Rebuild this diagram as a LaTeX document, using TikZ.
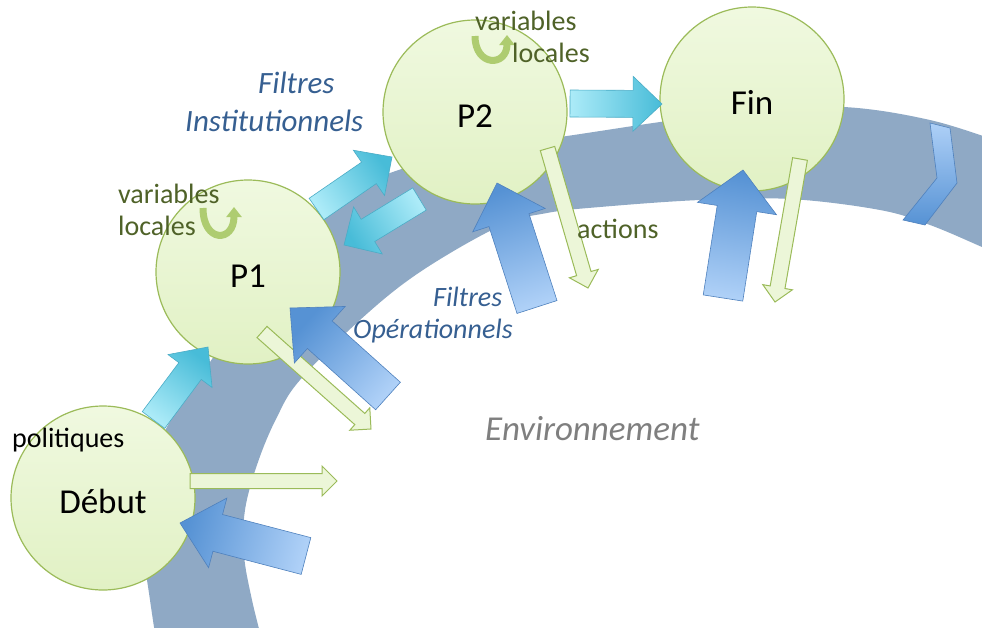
\documentclass[tikz,border=0pt]{standalone}
\usepackage{fontspec}
\setmainfont{Carlito}
\usetikzlibrary{calc}
\usetikzlibrary{arrows.meta}

\definecolor{bandcol}{RGB}{143,169,197}
\definecolor{disclight}{RGB}{240,249,224}
\definecolor{discdark}{RGB}{225,241,196}
\definecolor{discline}{RGB}{155,187,89}
\definecolor{cyanlight}{RGB}{172,235,248}
\definecolor{cyandark}{RGB}{72,188,216}
\definecolor{cyanline}{RGB}{75,172,198}
\definecolor{bluelight}{RGB}{174,208,247}
\definecolor{bluedark}{RGB}{86,146,212}
\definecolor{blueline}{RGB}{79,129,189}
\definecolor{paleg}{RGB}{236,246,216}
\definecolor{olive}{RGB}{79,98,40}
\definecolor{filtreblue}{RGB}{54,95,145}
\definecolor{envgray}{RGB}{127,127,127}
\definecolor{uturncol}{RGB}{174,204,112}

\newcommand{\blockarrow}[6]{%
  \pgfmathanglebetweenpoints{\pgfpointanchor{#2}{center}}{\pgfpointanchor{#3}{center}}%
  \pgfmathsetmacro{\shadeang}{\pgfmathresult-90}%
  \coordinate (hb) at ($(#3)!#6!(#2)$);
  \path[#1, shading angle=\shadeang]
    ($(#2)!#4!90:(#3)$) -- ($(hb)!#4!90:(#3)$) -- ($(hb)!#5!90:(#3)$) -- (#3)
    -- ($(hb)!#5!-90:(#3)$) -- ($(hb)!#4!-90:(#3)$) -- ($(#2)!#4!-90:(#3)$) -- cycle;
}

\begin{document}
\begin{tikzpicture}[%
  x=1pt, y=-1pt,
  disc/.style={circle, minimum size=184pt, inner sep=0pt, draw=discline,
    line width=1.2pt, bottom color=discdark, top color=disclight,
    text height=30pt, text depth=0pt, font=\fontsize{35}{40}\selectfont},
  cyanarr/.style={bottom color=cyanlight, top color=cyandark, draw=cyanline, line width=0.6pt},
  bluearr/.style={bottom color=bluelight, top color=bluedark, draw=blueline, line width=0.6pt},
  palearr/.style={bottom color=paleg, top color=paleg, draw=discline, line width=1pt},
  uturn/.style={draw=uturncol, line width=7pt, -{Triangle[width=15pt,length=10pt]}},
  smalltxt/.style={anchor=base west, inner sep=0pt, font=\fontsize{28}{32}\selectfont},
  filtre/.style={anchor=base west, inner sep=0pt, text=filtreblue, font=\itshape},
]

  \useasboundingbox (0,0) rectangle (982,627);
  \clip (0,0) rectangle (982,627);

  \fill[bandcol] plot[smooth, tension=0.6] coordinates {(156,640) (150,600) (145,560)
    (146,515) (153,470) (168,425) (210,362) (260,290) (305,225) (345,195) (390,173)
    (470,150) (567,136) (660,122) (750,110) (844,107) (930,120) (1000,142)}
    -- plot[smooth, tension=0.6] coordinates {(1000,255) (982,247) (930,225) (880,210)
    (790,199) (700,200) (600,207) (547,213) (500,226) (420,272) (360,320) (300,380)
    (277,417) (258,462) (245,510) (244,555) (252,600) (262,640)} -- cycle;

  \draw[top color=bluelight, bottom color=bluedark, draw=blueline, line width=0.6pt]
    (930,123) -- (950,128) -- (957,183) -- (925,225) -- (903,220) -- (937,178) -- cycle;

  \node[disc] (debut) at (103,498) {Début};
  \node[disc] (p1) at (248,272) {P1};
  \node[disc] (p2) at (475,112) {P2};
  \node[disc] (fin) at (752,99) {Fin};

  \coordinate (g0) at (190,481);
  \coordinate (g0t) at (337,481);
  \coordinate (g1) at (262,332);
  \coordinate (g1t) at (371,429);
  \coordinate (g2) at (547.5,148.5);
  \coordinate (g2t) at (588,288);
  \coordinate (g3) at (800,159);
  \coordinate (g3t) at (775,302);

  \coordinate (c0) at (153.5,420);
  \coordinate (c0t) at (208,347);
  \coordinate (c1) at (316.5,209);
  \coordinate (c1t) at (392,157);
  \coordinate (c2) at (419.5,199);
  \coordinate (c2t) at (344,245);
  \coordinate (c3) at (570,103.5);
  \coordinate (c3t) at (662,104);

  \coordinate (b0) at (306,556);
  \coordinate (b0t) at (180,523);
  \coordinate (b1) at (388,396);
  \coordinate (b1t) at (290,308);
  \coordinate (b2) at (537,307);
  \coordinate (b2t) at (497,183);
  \coordinate (b3) at (723,298);
  \coordinate (b3t) at (743,170);

  \blockarrow{palearr}{g0}{g0t}{7.5pt}{15pt}{15pt}
  \blockarrow{palearr}{g1}{g1t}{7.5pt}{15pt}{15pt}
  \blockarrow{palearr}{g2}{g2t}{7.5pt}{15pt}{15pt}
  \blockarrow{palearr}{g3}{g3t}{7.5pt}{15pt}{15pt}

  \blockarrow{cyanarr}{c0}{c0t}{14pt}{27.5pt}{30pt}
  \blockarrow{cyanarr}{c1}{c1t}{13pt}{27.5pt}{28pt}
  \blockarrow{cyanarr}{c2}{c2t}{13pt}{27.5pt}{28pt}
  \blockarrow{cyanarr}{c3}{c3t}{13.5pt}{27.5pt}{29pt}

  \blockarrow{bluearr}{b0}{b0t}{19pt}{36pt}{39pt}
  \blockarrow{bluearr}{b1}{b1t}{18.5pt}{38pt}{40pt}
  \blockarrow{bluearr}{b2}{b2t}{21pt}{38pt}{39pt}
  \blockarrow{bluearr}{b3}{b3t}{20pt}{40pt}{39pt}

  \coordinate (u1) at (203,208);
  \coordinate (u1t) at (234,207);
  \coordinate (u2) at (475,36);
  \coordinate (u2t) at (507,35);
  \draw[uturn] (u1) .. controls (203,243) and (234,243) .. (u1t);
  \draw[uturn] (u2) .. controls (475,67) and (507,67) .. (u2t);

  \node[smalltxt] (pol) at (12,447) {politiques};
  \node[smalltxt, text=olive] (var1) at (118,203) {variables};
  \node[smalltxt, text=olive] (loc1) at (118,235) {locales};
  \node[smalltxt, text=olive] (var2) at (475,30) {variables};
  \node[smalltxt, text=olive] (loc2) at (512,62.5) {locales};
  \node[smalltxt, text=olive] (act) at (577,238) {actions};

  \node[filtre, font=\fontsize{31}{36}\selectfont\itshape] (fi0) at (258,93) {Filtres};
  \node[filtre, font=\fontsize{31}{36}\selectfont\itshape] (fi1) at (185,131) {Institutionnels};
  \node[filtre, font=\fontsize{28}{32}\selectfont\itshape] (fo0) at (433,306.5) {Filtres};
  \node[filtre, font=\fontsize{28}{32}\selectfont\itshape] (fo1) at (353,338) {Opérationnels};

  \node[anchor=base west, inner sep=0pt, text=envgray,
    font=\fontsize{35}{40}\selectfont\itshape] (env) at (485,440) {Environnement};

\end{tikzpicture}
\end{document}
